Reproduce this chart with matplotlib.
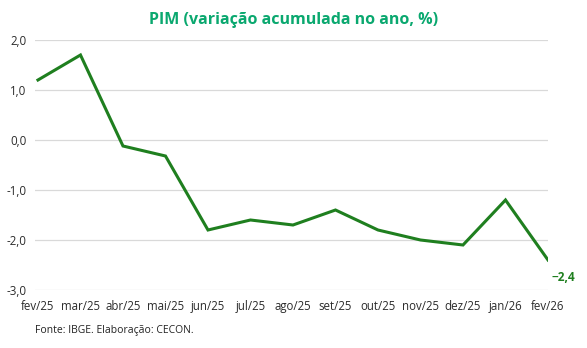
import numpy as np
import matplotlib
matplotlib.use("Agg")
from matplotlib import pyplot as plt

months = ["fev/25", "mar/25", "abr/25", "mai/25", "jun/25", "jul/25", "ago/25",
          "set/25", "out/25", "nov/25", "dez/25", "jan/26", "fev/26"]
pim = [1.2, 1.7, -0.12, -0.32, -1.8, -1.6, -1.7, -1.4, -1.8, -2.0, -2.1, -1.2, -2.4]
yticks = [2.0, 1.0, 0.0, -1.0, -2.0, -3.0]

LINE = "#1f7f1f"
TITLE = "#0aa86f"
TEXT = "#2b2b2b"

plt.rcParams['font.family'] = ['Open Sans', 'DejaVu Sans']

fig = plt.figure(figsize=(5.87, 3.48), dpi=100)
ax = fig.add_axes([35 / 587, 58 / 348, 513 / 587, 250 / 348])

x = np.arange(len(months))
ax.plot(x, pim, color=LINE, lw=2.2, solid_joinstyle='miter')
ax.annotate(f"{pim[-1]:.1f}".replace(".", ",").replace("-", "−"), (x[-1], pim[-1]),
            xytext=(11, -8), textcoords='offset points',
            color=LINE, fontsize=8.5, fontweight='bold', ha='center', va='top')

ax.set_xlim(-0.07, len(months) - 1)
ax.set_ylim(-3.0, 2.0)
ax.set_yticks(yticks)
ax.set_yticklabels([f"{v:.1f}".replace(".", ",") for v in yticks])
ax.set_xticks(x)
ax.set_xticklabels(months)
ax.tick_params(length=0, labelsize=8.3, colors=TEXT)
ax.tick_params(axis='y', pad=6)
ax.tick_params(axis='x', pad=7)
ax.grid(axis='y', color='#d9d9d9', lw=0.9)
ax.set_axisbelow(True)
for s in ax.spines.values():
    s.set_visible(False)

fig.text(0.5, 1 - 20 / 348, "PIM (variação acumulada no ano, %)", color=TITLE,
         fontsize=11.5, fontweight='bold', ha='center', va='center')
fig.text(35 / 587, 1 - 330 / 348, "Fonte: IBGE. Elaboração: CECON.", color='#222222',
         fontsize=7.5, ha='left', va='center')

fig.savefig("out.png", dpi=100)
